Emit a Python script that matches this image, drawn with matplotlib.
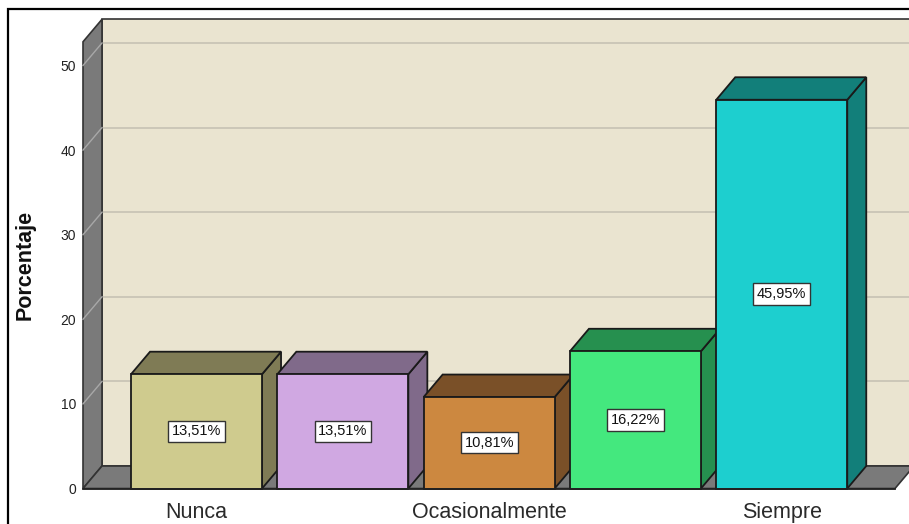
import matplotlib.pyplot as plt
from matplotlib.patches import Polygon, Rectangle

plt.rcParams["font.family"] = ["Liberation Sans", "DejaVu Sans"]

# datos
categorias = ["Nunca", "", "Ocasionalmente", "", "Siempre"]
porcentajes = [13.51, 13.51, 10.81, 16.22, 45.95]
etiquetas = ["13,51%", "13,51%", "10,81%", "16,22%", "45,95%"]
y_ticks = [0, 10, 20, 30, 40, 50]

frente = ["#CFCB8E", "#D0A8E2", "#CC8840", "#44E87E", "#1DCFCF"]
lado = ["#7F7B55", "#806A8A", "#7A5028", "#26904F", "#127F7A"]

W, H = 909, 524
fig = plt.figure(figsize=(W / 100, H / 100), dpi=100)
ax = fig.add_axes([83 / W, 35.5 / H, 812 / W, (488.5 - 41.8) / H])

x0, x1 = -0.776, 4.774
ymax = 52.8
ax.set_xlim(x0, x1)
ax.set_ylim(0, ymax)

# profundidad 3D en unidades de datos
dx = 19 / 146.3
dy = 22.5 / 8.46
bw = 131 / 146.3

wall = "#EAE4D0"
gris = "#7A7A7A"
borde = "#1A1A1A"

# pared del fondo
ax.add_patch(Rectangle((x0 + dx, dy), x1 - x0 + 1, ymax, facecolor=wall,
                       edgecolor="#333333", lw=1.2, clip_on=False, zorder=0))
for t in y_ticks[1:]:
    ax.plot([x0 + dx, x1 + 1], [t + dy, t + dy], color="#C9C4B6", lw=1.3,
            clip_on=False, zorder=0.5)

# pared izquierda
ax.add_patch(Polygon([(x0, 0), (x0 + dx, dy), (x0 + dx, ymax + dy), (x0, ymax)],
                     closed=True, facecolor=gris, edgecolor="#333333", lw=1.2,
                     clip_on=False, zorder=1))
for t in y_ticks[1:]:
    ax.plot([x0, x0 + dx], [t, t + dy], color="#A8A8A8", lw=1.0,
            clip_on=False, zorder=1.2)

# piso
ax.add_patch(Polygon([(x0, 0), (x1, 0), (x1 + dx, dy), (x0 + dx, dy)],
                     closed=True, facecolor=gris, edgecolor="#333333", lw=1.2,
                     clip_on=False, zorder=1.5))

# barras 3D
for i, v in enumerate(porcentajes):
    xl, xr = i - bw / 2, i + bw / 2
    z = 3 + i
    ax.add_patch(Polygon([(xr, 0), (xr + dx, dy), (xr + dx, v + dy), (xr, v)],
                         closed=True, facecolor=lado[i], edgecolor=borde, lw=1.3,
                         clip_on=False, zorder=z))
    ax.add_patch(Polygon([(xl, v), (xr, v), (xr + dx, v + dy), (xl + dx, v + dy)],
                         closed=True, facecolor=lado[i], edgecolor=borde, lw=1.3,
                         clip_on=False, zorder=z))
    ax.add_patch(Rectangle((xl, 0), bw, v, facecolor=frente[i], edgecolor=borde,
                           lw=1.3, clip_on=False, zorder=z + 0.1))
    ax.text(i, v / 2, etiquetas[i], ha="center", va="center", fontsize=10.5,
            color="#111111", zorder=20,
            bbox=dict(boxstyle="square,pad=0.25", facecolor="white",
                      edgecolor="#333333", lw=1.0))

ax.set_xticks(range(len(categorias)))
ax.set_xticklabels(categorias, fontsize=15.5, color="#2A2A2A")
ax.set_yticks(y_ticks)
ax.set_yticklabels([str(t) for t in y_ticks], fontsize=10, color="#222222")
ax.tick_params(axis="both", length=0)
ax.tick_params(axis="y", pad=5)
ax.tick_params(axis="x", pad=10)
for s in ax.spines.values():
    s.set_visible(False)
ax.spines["bottom"].set_visible(True)
ax.spines["bottom"].set_color("#222222")
ax.spines["bottom"].set_linewidth(1.3)
ax.spines["bottom"].set_zorder(30)

fig.text(25 / W, 1 - 265 / H, "Porcentaje", rotation=90, ha="center", va="center",
         fontsize=15.5, fontweight="bold", color="#111111")

# marco exterior
fig.add_artist(Rectangle((8 / W, -0.1), 1.2, 1.1 - 9 / H, transform=fig.transFigure,
                         facecolor="none", edgecolor="black", lw=1.6))

fig.savefig("out.png", dpi=100, facecolor="white")
